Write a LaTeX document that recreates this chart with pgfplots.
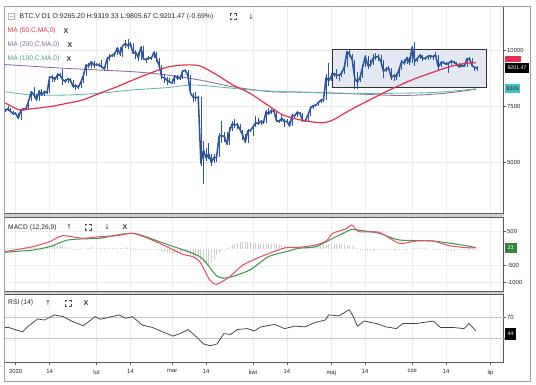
\documentclass[border=0pt]{standalone}
\usepackage{pgfplots}
\pgfplotsset{compat=1.18}
\usepackage{pgfplotstable}
\usepackage{fontspec}
\setmainfont{Liberation Sans}
\newfontfamily\djv{DejaVu Sans}
\definecolor{candle}{HTML}{2A54A0}
\definecolor{ma50}{HTML}{E2314F}
\definecolor{ma200}{HTML}{8A6B9E}
\definecolor{ma100}{HTML}{5DB9B1}
\definecolor{macdred}{HTML}{E8506A}
\definecolor{macdgreen}{HTML}{3E9A4C}
\definecolor{framec}{HTML}{5A5A5A}
\definecolor{gridc}{HTML}{EDEDED}
\definecolor{boxfill}{HTML}{E3E8F2}
\definecolor{tagcyan}{HTML}{45BFC0}
\definecolor{taggreen}{HTML}{2A8A3A}

\pgfplotstableread{
d c h l
-4 7317 7380 7260
-3 7411 7520 7290
-2 7293 7420 7260
-1 7194 7330 7150
0 7200 7255 7170
1 6985 7210 6935
2 7345 7400 6915
3 7410 7430 7290
4 7411 7490 7370
5 7769 7790 7400
6 8164 8210 7750
7 8038 8400 7900
8 7818 8050 7780
9 8198 8260 7750
10 8020 8290 7960
11 8184 8200 7990
12 8110 8200 8060
13 8811 8880 8090
14 8821 8900 8610
15 8720 8840 8610
16 8913 8990 8690
17 8916 9010 8810
18 8708 9170 8470
19 8630 8730 8560
20 8745 8760 8580
21 8681 8790 8630
22 8407 8690 8320
23 8445 8510 8260
24 8368 8460 8300
25 8597 8600 8320
26 8910 8970 8570
27 9358 9400 8880
28 9316 9430 9220
29 9508 9560 9230
30 9350 9520 9230
31 9393 9440 9330
32 9345 9460 9270
33 9293 9590 9230
34 9180 9330 9110
35 9613 9740 9160
36 9729 9830 9540
37 9796 9850 9710
38 9865 9930 9740
39 10116 10160 9820
40 9856 10180 9760
41 10208 10270 9740
42 10327 10460 10100
43 10214 10500 10090
44 10312 10380 10180
45 9889 10340 9840
46 9934 10050 9630
47 9690 9940 9560
48 10141 10200 9600
49 9633 10220 9580
50 9608 9690 9430
51 9686 9760 9590
52 9663 9700 9570
53 9924 9970 9660
54 9650 9960 9500
55 9341 9660 9300
56 8820 9370 8720
57 8784 8960 8570
58 8672 8830 8470
59 8599 8800 8580
60 8562 8730 8500
61 8869 8900 8530
62 8787 8910 8680
63 8755 8840 8690
64 9078 9150 8750
65 9122 9190 9030
66 8909 9150 8860
67 8108 8910 8080
68 7923 8130 7700
69 7909 8140 7740
70 7911 7980 7600
71 4970 7930 4860
72 5563 5950 4050
73 5200 5640 5090
74 5392 5880 5180
75 5014 5390 4850
76 5225 5370 5000
77 5238 5330 5050
78 6191 6330 5240
79 6198 6850 5860
80 6185 6390 5920
81 5830 6360 5790
82 6416 6590 5810
83 6734 6840 6400
84 6681 6930 6530
85 6716 6790 6510
86 6469 6740 6430
87 6243 6470 6030
88 5922 6260 5880
89 6429 6520 5900
90 6438 6520 6380
91 6606 6650 6200
92 6793 7090 6600
93 6733 7000 6680
94 6867 6880 6700
95 6791 6900 6710
96 7271 7340 6790
97 7176 7440 7140
98 7334 7390 7160
99 7302 7380 7200
100 6865 7310 6800
101 6859 6910 6780
102 6971 7180 6810
103 6845 6970 6580
104 6842 6940 6780
105 6642 6860 6620
106 7116 7170 6620
107 7096 7150 7000
108 7257 7290 7050
109 7189 7260 7120
110 6881 7210 6810
111 6880 6940 6830
112 7117 7140 6860
113 7429 7510 7100
114 7550 7590 7400
115 7569 7590 7500
116 7679 7700 7540
117 7795 7810 7650
118 7807 7810 7700
119 8801 8950 7790
120 8658 9440 8440
121 8864 9000 8640
122 8989 9010 8840
123 8897 9180 8740
124 8912 8950 8640
125 9003 9100 8840
126 9269 9380 8980
127 9951 10000 9250
128 9842 10060 9730
129 9593 9850 9530
130 8756 9590 8300
131 8601 9030 8280
132 8804 8900 8600
133 9269 9320 8800
134 9733 9800 9260
135 9328 9760 9180
136 9377 9570 9260
137 9670 9870 9350
138 9726 9890 9600
139 9729 9840 9520
140 9523 9800 9450
141 9081 9570 8800
142 9182 9270 9050
143 9209 9300 9120
144 8790 9220 8710
145 8906 8980 8640
146 8835 9000 8710
147 9181 9200 8820
148 9525 9580 9130
149 9439 9610 9370
150 9700 9720 9400
151 9461 9700 9370
152 10167 10200 9440
153 9529 10400 9300
154 9656 9690 9490
155 9800 9850 9610
156 9665 9810 9520
157 9653 9730 9600
158 9758 9800 9580
159 9771 9800 9650
160 9729 9800 9590
161 9795 9940 9710
162 9270 9800 9110
163 9471 9540 9250
164 9474 9520 9410
165 9386 9490 9340
166 9450 9480 8990
167 9538 9590 9380
168 9480 9550 9400
169 9411 9490 9330
170 9288 9440 9220
171 9332 9390 9250
172 9303 9420 9280
173 9648 9690 9290
174 9629 9700 9590
175 9313 9670 9270
176 9264 9330 9100
177 9201 9319 9095
}\price

\pgfplotstableread{
d v
-4 5
-3 10
-2 15
-1 10
0 5
1 0
2 -10
3 5
4 10
5 20
6 35
7 40
8 30
9 25
10 40
11 50
12 70
13 90
14 110
15 100
16 90
17 80
18 70
19 50
20 30
21 10
22 -10
23 -20
24 -25
25 -15
26 0
27 15
28 30
29 35
30 30
31 25
32 15
33 10
34 10
35 20
36 25
37 30
38 30
39 30
40 25
41 30
42 35
43 30
44 25
45 10
46 -5
47 -15
48 -10
49 -20
50 -25
51 -35
52 -40
53 -35
54 -40
55 -50
56 -80
57 -100
58 -120
59 -140
60 -150
61 -140
62 -130
63 -120
64 -110
65 -110
66 -130
67 -180
68 -220
69 -240
70 -260
71 -320
72 -400
73 -460
74 -490
75 -420
76 -330
77 -200
78 -120
79 -60
80 -20
81 20
82 60
83 100
84 140
85 170
86 200
87 215
88 210
89 200
90 190
91 180
92 170
93 160
94 150
95 150
96 150
97 150
98 145
99 140
100 130
101 120
102 110
103 100
104 90
105 80
106 70
107 60
108 60
109 60
110 60
111 55
112 55
113 60
114 70
115 80
116 90
117 100
118 110
119 120
120 130
121 140
122 150
123 150
124 145
125 140
126 130
127 120
128 100
129 80
130 40
131 10
132 -20
133 -40
134 -50
135 -55
136 -60
137 -55
138 -50
139 -45
140 -40
141 -35
142 -30
143 -40
144 -50
145 -55
146 -50
147 -40
148 -30
149 -20
150 -10
151 0
152 10
153 15
154 20
155 20
156 15
157 10
158 5
159 0
160 -5
161 -10
162 -20
163 -30
164 -40
165 -45
166 -50
167 -55
168 -55
169 -50
170 -45
171 -40
172 -35
173 -30
174 -25
175 -20
176 -15
177 -10
}\hist

\pgfplotsset{
  panel/.style={
    scale only axis, width=498.8pt, xmin=-4.2, xmax=187,
    axis line style={framec, line width=0.6pt},
    xtick={0,13,31,44,60,73,91,104,121,134,152,165,182},
    xmajorgrids, ymajorgrids, grid style={gridc, line width=0.5pt},
    ytick pos=right, yticklabel pos=right,
    tick align=outside, major tick length=2pt,
    tick style={framec, line width=0.5pt},
    tick label style={font=\fontsize{5.9}{6}\selectfont, text=black!85},
    yticklabel style={inner sep=1pt, xshift=0.5pt},
    scaled y ticks=false,
    clip=false,
  },
  upper/.style={xticklabels={}, xtick style={draw=none}},
}

\newcommand\expicon[2]{%
  \draw[black!70, line width=0.6pt]
    (#1-3,#2+1) -- (#1-3,#2+3) -- (#1-1,#2+3)
    (#1+1,#2+3) -- (#1+3,#2+3) -- (#1+3,#2+1)
    (#1+3,#2-1) -- (#1+3,#2-3) -- (#1+1,#2-3)
    (#1-1,#2-3) -- (#1-3,#2-3) -- (#1-3,#2-1);}

\begin{document}
\begin{tikzpicture}[x=1pt,y=1pt]
\path (0,0) rectangle (536,385);

% ---------- price panel ----------
\begin{axis}[panel, upper, at={(4.7pt,171.5pt)}, anchor=south west, height=206.8pt,
  ymin=2733, ymax=11964, ytick={5000,7500,10000}, yticklabels={5000,7500,10000}]
\addplot[draw=black!80, line width=0.9pt, fill=boxfill] coordinates {(121.5,8365) (180.6,8365) (180.6,10060) (121.5,10060)} -- cycle;
\addplot[ma200, line width=0.85pt, smooth] coordinates {(-4,9380) (19.6,9210) (44.9,9060) (57.9,8920) (70.6,8690) (83.3,8390) (97.5,8170) (109,8150) (128.2,8080) (147.4,8000) (162.7,8080) (176.5,8280)};
\addplot[ma100, line width=0.85pt, smooth] coordinates {(-4,8170) (6.5,8020) (19.6,8020) (32.2,8100) (44.9,8250) (57.9,8350) (67.9,8470) (77.1,8390) (89.8,8250) (97.5,8200) (109,8150) (128.2,8100) (147.4,8100) (162.7,8150) (176.5,8300)};
\addplot[draw=none, mark=none, error bars/.cd, y dir=both, y explicit, error mark=none,
  error bar style={draw=candle, line width=0.65pt}]
  table[x=d, y=c, y error plus expr=\thisrow{h}-\thisrow{c}, y error minus expr=\thisrow{c}-\thisrow{l}] {\price};
\addplot[candle, line width=1.55pt, line join=round] table[x=d, y=c] {\price};
\addplot[ma50, line width=1.2pt, smooth] coordinates {(-4,7670) (1.5,7350) (5.4,7400) (13,7500) (19.6,7650) (25.7,7800) (32.2,8100) (38.8,8390) (44.9,8690) (51.4,8990) (57.9,9260) (64.1,9360) (70.6,9320) (77.1,8920) (83.3,8470) (89.8,8100) (97.5,7500) (102.5,7130) (109,6910) (115,6800) (118.5,6790) (122,6930) (128.2,7350) (134.3,7720) (140.8,8100) (147.4,8470) (153.5,8770) (160,9040) (166.5,9290) (172.7,9440) (176.5,9460)};
\end{axis}

% ---------- MACD panel ----------
\begin{axis}[panel, upper, at={(4.7pt,94pt)}, anchor=south west, height=73.5pt,
  ymin=-1244, ymax=917, ytick={-1000,-500,500}, yticklabels={-1000,-500,500}]
\addplot[ycomb, draw=gray!40, line width=0.8pt] table[x=d, y=v] {\hist};
\addplot[macdgreen, line width=1.05pt, smooth, tension=0.4] coordinates {(-4.2,-106) (6.5,-40) (13,59) (19.6,250) (26,290) (32.2,306) (44.9,453) (57.9,129) (70.6,-235) (77.1,-803) (81.4,-853) (89.8,-626) (96.7,-240) (103.6,-88) (108.6,12) (115.1,59) (121.6,306) (128.2,550) (130,560) (139.3,453) (147,256) (160,226) (172.7,88) (176.5,29)};
\addplot[macdred, line width=1.05pt, smooth, tension=0.4] coordinates {(-4.2,-88) (6.5,59) (13,206) (18,382) (25.7,306) (32.2,353) (38.8,382) (44.9,453) (51.4,285) (57.9,59) (64.1,-165) (67.9,-235) (70.6,-382) (74.4,-920) (77.1,-1047) (82.1,-823) (87.1,-480) (96.7,-150) (103.6,29) (108.6,41) (115.1,109) (119,226) (121.6,453) (126.6,580) (128.9,697) (131.6,500) (139.3,482) (147,159) (153.5,226) (160,226) (166.2,88) (172.7,29) (176.5,29)};
\end{axis}

% ---------- RSI panel ----------
\begin{axis}[panel, at={(4.7pt,22.3pt)}, anchor=south west, height=68.2pt,
  ymin=-15.7, ymax=113, ytick={30,70}, yticklabels={30,70}, ymajorgrids=false,
  xtick pos=bottom, xticklabels={2020,14,lut,14,mar,14,kwi,14,maj,14,cze,14,lip},
  xticklabel style={yshift=-1.5pt}]
\addplot[gray!45, line width=0.6pt] coordinates {(-4.2,70) (187,70)};
\addplot[gray!45, line width=0.6pt] coordinates {(-4.2,30) (187,30)};
\addplot[black!75, line width=0.75pt] coordinates {(-4.2,51) (-2.6,50.6) (2.6,42.3) (4.5,51.9) (8.4,66.8) (11,64.8) (14.9,74.5) (18.2,71.3) (21.4,62.9) (25.9,53.9) (30.5,71.3) (32.4,66.1) (35.7,70) (39.6,74.5) (42.2,68.1) (44.7,71.3) (48.6,55.2) (52.5,50.6) (56.4,42.3) (60.3,34.5) (62.9,39) (66.1,46.8) (69.4,32.6) (72,19.7) (74.6,16.5) (77.2,19.7) (79.8,39) (82.4,37.7) (85,46.8) (88.8,48.7) (91.4,44.2) (94,51.9) (99.2,56.5) (103.1,48.7) (107,53.2) (110.9,51.9) (114.8,60.3) (118.7,64.8) (120,74.5) (123.9,72.6) (127.8,84.2) (129.1,74.5) (131,53.2) (133.6,62.9) (138.1,58.4) (142,51.9) (145.9,48.7) (148.5,58.4) (153.7,58.4) (160.2,62.9) (162.8,50.6) (168,50.6) (171.9,48.7) (173.8,58.4) (176.4,44.2)};
\end{axis}

% ---------- frame and separators ----------
\fill[gray!35] (4.7,167.5) rectangle (503.5,171.5);
\fill[gray!35] (4.7,90.5) rectangle (503.5,94);
\draw[framec, line width=0.5pt] (4.7,167.5) -- (503.5,167.5) (4.7,171.5) -- (503.5,171.5)
  (4.7,90.5) -- (503.5,90.5) (4.7,94) -- (503.5,94);
\draw[gray!75, line width=0.6pt] (4.7,3.3) rectangle (530,378.3);

% ---------- value tags ----------
\fill[ma50] (504.5,323) rectangle (521,329);
\node[fill=black, text=white, inner xsep=2.8pt, inner ysep=0pt, minimum height=10pt, anchor=west, font=\fontsize{5.3}{5.5}\selectfont] at (504.5,317.2) {9201.47};
\node[fill=tagcyan, text=black!85, inner xsep=2pt, inner ysep=0pt, minimum height=9.5pt, anchor=west, font=\fontsize{5.3}{5.5}\selectfont] at (504.5,296.7) {8305};
\node[fill=taggreen, text=white, inner xsep=3pt, inner ysep=0pt, minimum height=10pt, anchor=west, font=\fontsize{5.3}{5.5}\selectfont] at (504.5,137) {23};
\node[fill=black, text=white, inner xsep=2.8pt, inner ysep=0pt, minimum height=12pt, anchor=west, font=\fontsize{5.3}{5.5}\selectfont] at (504.5,51) {44};

% ---------- header and legends ----------
\draw[gray!55, line width=0.5pt] (8,365.3) rectangle (14,371.3) (9.5,368.3) -- (12.5,368.3);
\node[anchor=west, inner sep=0pt, text=black!85, font=\fontsize{6.9}{7}\selectfont] at (19.5,368.3) {BTC.V D1 O:9265.20 H:9319.33 L:9805.67 C:9201.47 (-0.69\%)};
\expicon{233}{368.3}
\node[text=black!75, inner sep=0pt, font=\djv\fontsize{7}{7}\selectfont] at (251,368.3) {↓};

\node[anchor=west, inner sep=0pt, text=ma50, font=\fontsize{6.7}{7}\selectfont] at (7.5,354) {MA (50,C,MA,0)};
\node[inner sep=0pt, text=black!80, font=\bfseries\fontsize{7}{7}\selectfont] at (66,354) {X};
\node[anchor=west, inner sep=0pt, text=ma200, font=\fontsize{6.7}{7}\selectfont] at (7.5,340) {MA (200,C,MA,0)};
\node[inner sep=0pt, text=black!80, font=\bfseries\fontsize{7}{7}\selectfont] at (70,340) {X};
\node[anchor=west, inner sep=0pt, text=ma100!85!black, font=\fontsize{6.7}{7}\selectfont] at (7.5,326) {MA (100,C,MA,0)};
\node[inner sep=0pt, text=black!80, font=\bfseries\fontsize{7}{7}\selectfont] at (69,326) {X};

\node[anchor=west, inner sep=0pt, text=black!85, font=\fontsize{6.7}{7}\selectfont] at (8,157.7) {MACD (12,26,9)};
\node[text=black!75, inner sep=0pt, font=\djv\fontsize{7}{7}\selectfont] at (69,157.7) {↑};
\expicon{88}{157.7}
\node[text=black!75, inner sep=0pt, font=\djv\fontsize{7}{7}\selectfont] at (107,157.7) {↓};
\node[inner sep=0pt, text=black!80, font=\bfseries\fontsize{7}{7}\selectfont] at (125,157.7) {X};

\node[anchor=west, inner sep=0pt, text=black!85, font=\fontsize{6.7}{7}\selectfont] at (8,82) {RSI (14)};
\node[text=black!75, inner sep=0pt, font=\djv\fontsize{7}{7}\selectfont] at (48,82) {↑};
\expicon{68}{82}
\node[inner sep=0pt, text=black!80, font=\bfseries\fontsize{7}{7}\selectfont] at (86,82) {X};
\end{tikzpicture}
\end{document}
